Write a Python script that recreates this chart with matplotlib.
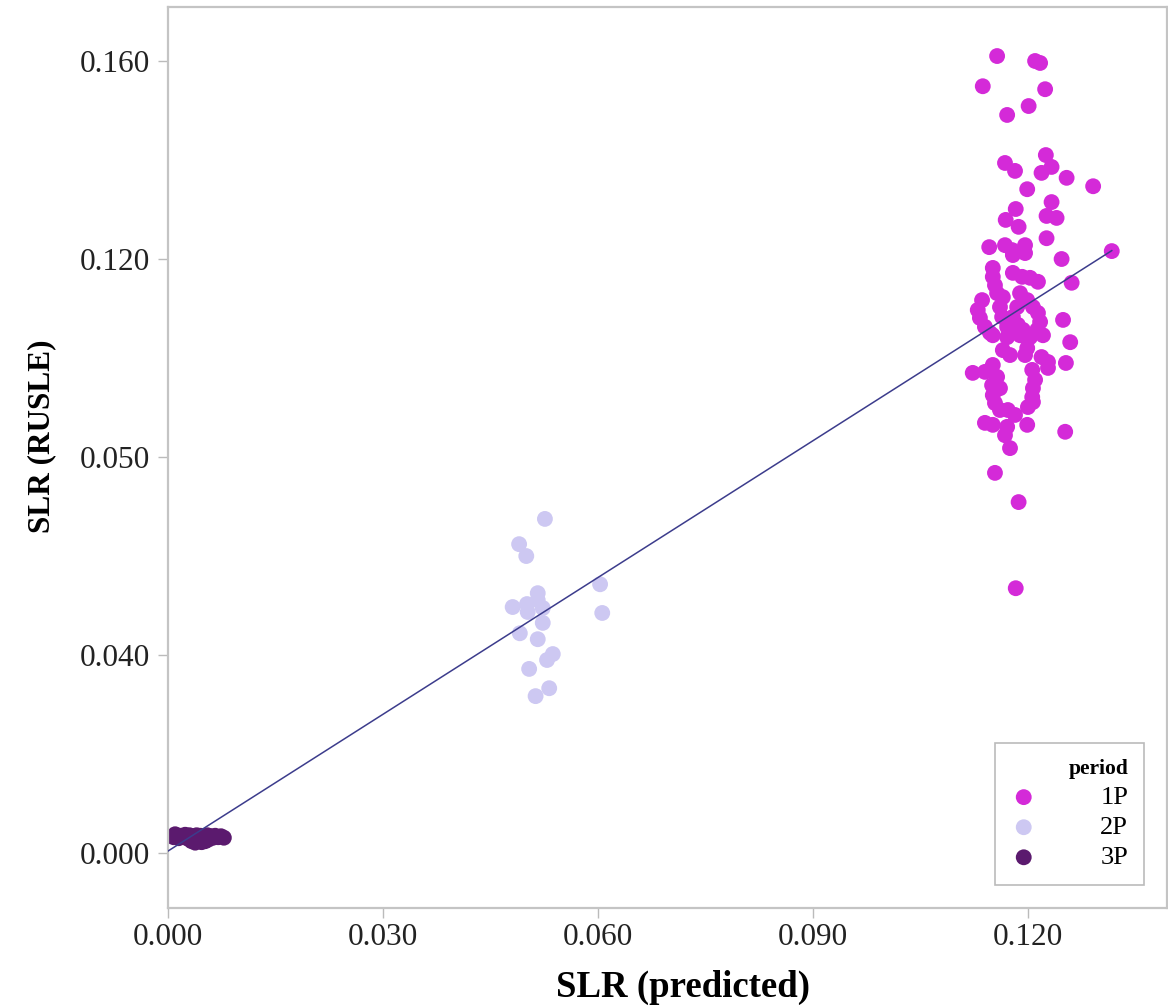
import numpy as np
import matplotlib.pyplot as plt

plt.rcParams["font.family"] = ["Liberation Serif", "DejaVu Serif"]

# SLR values per period: predicted (x) vs RUSLE (y)
p1_pred = [0.1157, 0.1210, 0.1217, 0.1137, 0.1224, 0.1201, 0.1171, 0.1225, 0.1168, 0.1182,
           0.1233, 0.1219, 0.1254, 0.1291, 0.1199, 0.1233, 0.1183, 0.1169, 0.1226, 0.1240,
           0.1187, 0.1226, 0.1146, 0.1168, 0.1178, 0.1179, 0.1196, 0.1196, 0.1317, 0.1247,
           0.1151, 0.1261, 0.1179, 0.1192, 0.1203, 0.1214, 0.1151, 0.1154, 0.1157, 0.1136,
           0.1130, 0.1133, 0.1140, 0.1147, 0.1165, 0.1161, 0.1164, 0.1171, 0.1175, 0.1189,
           0.1199, 0.1207, 0.1214, 0.1217, 0.1213, 0.1203, 0.1185, 0.1179, 0.1186, 0.1193,
           0.1249, 0.1151, 0.1171, 0.1189, 0.1221, 0.1165, 0.1175, 0.1199, 0.1196, 0.1219,
           0.1228, 0.1228, 0.1259, 0.1253, 0.1123, 0.1140, 0.1151, 0.1157, 0.1150, 0.1161,
           0.1151, 0.1154, 0.1161, 0.1206, 0.1210, 0.1207, 0.1206, 0.1207, 0.1200, 0.1172,
           0.1182, 0.1140, 0.1151, 0.1171, 0.1168, 0.1199, 0.1175, 0.1252, 0.1154, 0.1187,
           0.1183]
p1_rusle = [0.1610, 0.1600, 0.1596, 0.1549, 0.1543, 0.1509, 0.1491, 0.1410, 0.1394, 0.1378,
            0.1386, 0.1374, 0.1364, 0.1347, 0.1341, 0.1315, 0.1301, 0.1279, 0.1287, 0.1283,
            0.1265, 0.1242, 0.1224, 0.1228, 0.1218, 0.1208, 0.1228, 0.1212, 0.1216, 0.1200,
            0.1182, 0.1152, 0.1172, 0.1164, 0.1162, 0.1154, 0.1164, 0.1147, 0.1131, 0.1117,
            0.1097, 0.1081, 0.1063, 0.1051, 0.1123, 0.1103, 0.1083, 0.1063, 0.1051, 0.1131,
            0.1117, 0.1103, 0.1091, 0.1073, 0.1057, 0.1042, 0.1103, 0.1083, 0.1067, 0.1057,
            0.1077, 0.1046, 0.1042, 0.1046, 0.1046, 0.1016, 0.1006, 0.1020, 0.1006, 0.1002,
            0.0992, 0.0980, 0.1032, 0.0990, 0.0970, 0.0972, 0.0986, 0.0962, 0.0945, 0.0939,
            0.0925, 0.0909, 0.0895, 0.0976, 0.0956, 0.0939, 0.0921, 0.0911, 0.0901, 0.0895,
            0.0885, 0.0869, 0.0865, 0.0861, 0.0844, 0.0865, 0.0818, 0.0851, 0.0768, 0.0709,
            0.0535]

p2_pred = [0.0526, 0.0490, 0.0500, 0.0516, 0.0481, 0.0501, 0.0502, 0.0516, 0.0523, 0.0603,
           0.0606, 0.0523, 0.0491, 0.0516, 0.0537, 0.0529, 0.0504, 0.0532, 0.0513]
p2_rusle = [0.0675, 0.0624, 0.0600, 0.0525, 0.0497, 0.0503, 0.0487, 0.0511, 0.0495, 0.0543,
            0.0485, 0.0465, 0.0444, 0.0432, 0.0402, 0.0390, 0.0372, 0.0333, 0.0317]

p3_pred = [0.0008, 0.0012, 0.0015, 0.0018, 0.0020, 0.0024, 0.0026, 0.0030, 0.0033, 0.0035,
           0.0038, 0.0040, 0.0042, 0.0045, 0.0047, 0.0050, 0.0052, 0.0055, 0.0058, 0.0060,
           0.0063, 0.0066, 0.0070, 0.0074, 0.0078, 0.0010, 0.0028, 0.0036, 0.0044, 0.0056]
p3_rusle = [0.0032, 0.0036, 0.0030, 0.0035, 0.0033, 0.0037, 0.0031, 0.0036, 0.0024, 0.0034,
            0.0021, 0.0036, 0.0025, 0.0035, 0.0022, 0.0033, 0.0024, 0.0036, 0.0030, 0.0034,
            0.0031, 0.0035, 0.0032, 0.0034, 0.0031, 0.0038, 0.0029, 0.0031, 0.0032, 0.0027]

# fitted line
fit_intercept = 0.0004
fit_slope = 0.921
fit_range = [0.0, 0.1317]

xticks = [0.0, 0.03, 0.06, 0.09, 0.12]
xtick_labels = ["0.000", "0.030", "0.060", "0.090", "0.120"]
yticks = [0.0, 0.04, 0.08, 0.12, 0.16]
ytick_labels = ["0.000", "0.040", "0.050", "0.120", "0.160"]

periods = ["1P", "2P", "3P"]
colors = ["#d42ad8", "#cdc8f2", "#5b1a6e"]

fig = plt.figure(figsize=(11.68, 10.05), dpi=100)
ax = fig.add_axes([0.1438, 0.0965, 0.8553, 0.8965])

for (px, py), lab, c in zip([(p1_pred, p1_rusle), (p2_pred, p2_rusle), (p3_pred, p3_rusle)],
                            periods, colors):
    ax.scatter(px, py, s=130, color=c, edgecolors="none", label=lab, zorder=2)

xf = np.array(fit_range)
ax.plot(xf, fit_intercept + fit_slope * xf, color="#3c3c8c", lw=1.1, zorder=3)

ax.set_xlim(0, 0.1394)
ax.set_ylim(-0.0111, 0.1709)
ax.set_xticks(xticks)
ax.set_xticklabels(xtick_labels)
ax.set_yticks(yticks)
ax.set_yticklabels(ytick_labels)
ax.tick_params(axis="both", labelsize=22.5, colors="#222222", length=7, width=1,
               color="#bbbbbb")
ax.tick_params(axis="y", pad=6)
ax.tick_params(axis="x", pad=4)

for sp in ax.spines.values():
    sp.set_color("#c4c4c4")
    sp.set_linewidth(1.6)

ax.set_xlabel("SLR (predicted)", fontsize=26.5, fontweight="bold", va="center")
ax.xaxis.set_label_coords(0.5155, -0.0877)
ax.set_ylabel("SLR (RUSLE)", fontsize=22.5, fontweight="bold", va="center")
ax.yaxis.set_label_coords(-0.126, 0.524)

leg = ax.legend(title="period", loc="lower right", bbox_to_anchor=(0.977, 0.0255),
                borderaxespad=0, fontsize=19, frameon=True, fancybox=False,
                handlelength=1.0, handletextpad=2.4, labelspacing=0.25,
                alignment="right", borderpad=0.6,
                title_fontproperties={"weight": "bold", "size": 15.5})
leg.get_frame().set_edgecolor("#aaaaaa")
leg.get_frame().set_linewidth(1.2)

fig.savefig("out.png", dpi=100)
